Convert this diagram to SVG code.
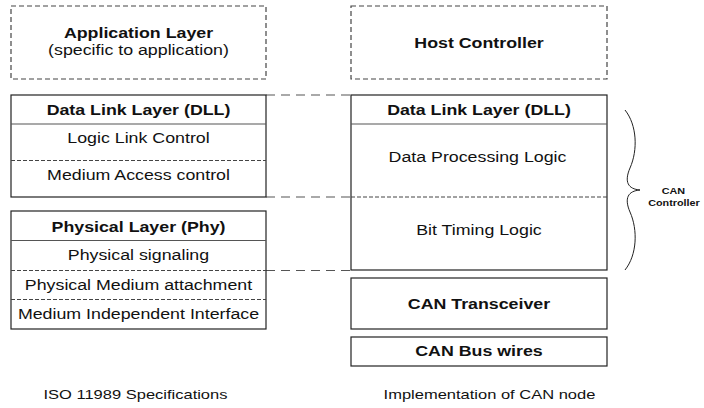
<svg xmlns="http://www.w3.org/2000/svg" width="704" height="408" viewBox="0 0 704 408">
<style>
.box{fill:#fff;stroke:#222;stroke-width:1.2}
.dbox{fill:#fff;stroke:#444;stroke-width:1.2;stroke-dasharray:5 3}
.div{stroke:#555;stroke-width:1.2}
.ddiv{stroke:#444;stroke-width:1;stroke-dasharray:4 2}
.conn{stroke:#555;stroke-width:1.2;stroke-dasharray:9 6;fill:none}
text{font-family:"Liberation Sans",Arial,sans-serif;fill:#111;text-anchor:middle}
.b{font-weight:bold;font-size:14px}
.r{font-size:14px}
.c{font-size:13px}
.s{font-weight:bold;font-size:8.5px}
</style>
<rect width="704" height="408" fill="#fff"/>
<g id="conns">
<line class="conn" x1="266" y1="95" x2="351" y2="95"/>
<line class="conn" x1="266" y1="197" x2="351" y2="197"/>
<line class="conn" x1="266" y1="270.5" x2="351" y2="270.5"/>
</g>
<g id="app">
<rect class="dbox" x="11" y="6" width="255" height="73"/>
<g transform="scale(1.27,1)">
<text class="b" x="109.06" y="38">Application Layer</text>
<text class="r" x="109.06" y="55">(specific to application)</text>
</g>
</g>
<g id="dll-left">
<rect class="box" x="11" y="95" width="255" height="102"/>
<line class="div" x1="11" y1="124" x2="266" y2="124"/>
<line class="ddiv" x1="11" y1="160.5" x2="266" y2="160.5"/>
<g transform="scale(1.27,1)">
<text class="b" x="109.06" y="115">Data Link Layer (DLL)</text>
<text class="r" x="109.06" y="143">Logic Link Control</text>
<text class="r" x="109.06" y="180">Medium Access control</text>
</g>
</g>
<g id="phy-left">
<rect class="box" x="11" y="211" width="255" height="118"/>
<line class="div" x1="11" y1="240.5" x2="266" y2="240.5"/>
<line class="ddiv" x1="11" y1="270.5" x2="266" y2="270.5"/>
<line class="ddiv" x1="11" y1="299.5" x2="266" y2="299.5"/>
<g transform="scale(1.27,1)">
<text class="b" x="109.06" y="232">Physical Layer (Phy)</text>
<text class="r" x="109.06" y="260">Physical signaling</text>
<text class="r" x="109.06" y="290.5">Physical Medium attachment</text>
<text class="r" x="109.06" y="319">Medium Independent Interface</text>
</g>
</g>
<g id="host">
<rect class="dbox" x="351" y="6" width="256" height="73"/>
<g transform="scale(1.27,1)">
<text class="b" x="377.17" y="48">Host Controller</text>
</g>
</g>
<g id="dll-right">
<rect class="box" x="351" y="95" width="256" height="175"/>
<line class="div" x1="351" y1="124" x2="607" y2="124"/>
<line class="ddiv" x1="351" y1="197" x2="607" y2="197"/>
<g transform="scale(1.27,1)">
<text class="b" x="377.17" y="115">Data Link Layer (DLL)</text>
<text class="r" x="376" y="162">Data Processing Logic</text>
<text class="r" x="377.17" y="235">Bit Timing Logic</text>
</g>
</g>
<g id="transceiver">
<rect class="box" x="351" y="278" width="256" height="51"/>
<g transform="scale(1.27,1)">
<text class="b" x="377.17" y="309">CAN Transceiver</text>
</g>
</g>
<g id="bus">
<rect class="box" x="351" y="337" width="256" height="29"/>
<g transform="scale(1.27,1)">
<text class="b" x="377.17" y="356">CAN Bus wires</text>
</g>
</g>
<g id="can-controller">
<path d="M625,110 C637,125 638,150 630,168 C624,182 628,189 640,190 C628,191 624,198 630,212 C638,230 637,255 625,270" fill="none" stroke="#222" stroke-width="1"/>
<g transform="scale(1.27,1)">
<text class="s" x="530.3" y="194">CAN</text>
<text class="s" x="530.7" y="206">Controller</text>
</g>
</g>
<g id="captions">
<g transform="scale(1.27,1)">
<text class="c" x="106.69" y="399">ISO 11989 Specifications</text>
<text class="c" x="385.43" y="399">Implementation of CAN node</text>
</g>
</g>
</svg>
